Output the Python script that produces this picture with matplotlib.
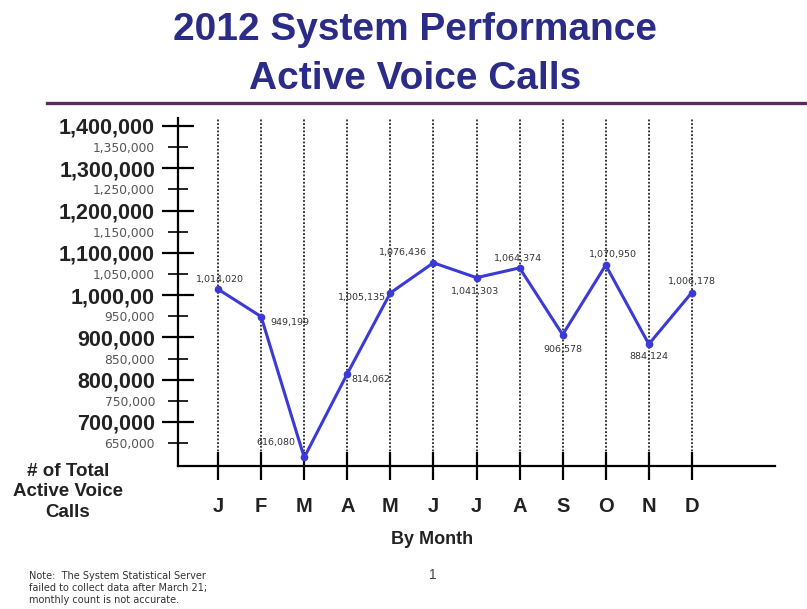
import matplotlib
matplotlib.use("Agg")
import matplotlib.pyplot as plt
from matplotlib.ticker import FixedLocator, FixedFormatter
from matplotlib.lines import Line2D

plt.rcParams['font.family'] = ['Liberation Sans', 'DejaVu Sans']

months = ["J", "F", "M", "A", "M", "J", "J", "A", "S", "O", "N", "D"]
calls = [1014020, 949199, 616080, 814062, 1005135, 1076436,
         1041303, 1064374, 906578, 1070950, 884124, 1006178]
value_labels = ["1,014,020", "949,199", "616,080", "814,062", "1,005,135", "1,076,436",
                "1,041,303", "1,064,374", "906,578", "1,070,950", "884,124", "1,006,178"]

major_ticks = [700000, 800000, 900000, 1000000, 1100000, 1200000, 1300000, 1400000]
major_labels = ["700,000", "800,000", "900,000", "1,000,00", "1,100,000",
                "1,200,000", "1,300,000", "1,400,000"]
minor_ticks = [650000, 750000, 850000, 950000, 1050000, 1150000, 1250000, 1350000]
minor_labels = ["650,000", "750,000", "850,000", "950,000", "1,050,000",
                "1,150,000", "1,250,000", "1,350,000"]

# label placement around each point: (dx, dy) in pixels, horizontal alignment
label_offsets = [(2, 10, "center"), (9, -6, "left"), (-9, 15, "right"), (4, -6, "left"),
                 (-4, -5, "right"), (-6, 10, "right"), (-1, -14, "center"), (-2, 9, "center"),
                 (0, -15, "center"), (7, 11, "center"), (0, -12, "center"), (0, 11, "center")]

W, H = 807, 609
fig = plt.figure(figsize=(W / 100, H / 100), dpi=100)
fig.patch.set_facecolor("white")

ax_left, ax_right, ax_top, ax_bottom = 178, 775, 118, 466
ax = fig.add_axes([ax_left / W, 1 - ax_bottom / H,
                   (ax_right - ax_left) / W, (ax_bottom - ax_top) / H])

x = list(range(len(months)))
ax.set_xlim(-0.93, 12.93)
ax.set_ylim(595900, 1418900)

# dotted month guides
for xi in x:
    ax.axvline(xi, color="black", linestyle=(0, (1.2, 1.2)), linewidth=1.1, zorder=1)

line_color = "#3a3ad6"
ax.plot(x, calls, color=line_color, linewidth=2.2, marker="o", markersize=4.5, zorder=3)

small_font = ["DejaVu Sans"]
for xi, yi, txt, (dx, dy, ha) in zip(x, calls, value_labels, label_offsets):
    ax.annotate(txt, (xi, yi), xytext=(dx, dy), textcoords="offset pixels",
                ha=ha, va="center", fontsize=6.8, color="#333333", zorder=4,
                family=small_font)

for side in ["top", "right"]:
    ax.spines[side].set_visible(False)
for side in ["left", "bottom"]:
    ax.spines[side].set_linewidth(1.6)
    ax.spines[side].set_color("black")

# y axis: bold hundred-thousands, small grey fifty-thousands
ax.yaxis.set_major_locator(FixedLocator(major_ticks))
ax.yaxis.set_major_formatter(FixedFormatter(major_labels))
ax.yaxis.set_minor_locator(FixedLocator(minor_ticks))
ax.yaxis.set_minor_formatter(FixedFormatter(minor_labels))
ax.tick_params(axis="y", which="major", direction="inout", length=23, width=1.6,
               pad=5, labelsize=15.5, colors="black")
ax.tick_params(axis="y", which="minor", direction="inout", length=15, width=1.2,
               pad=9, labelsize=8.8, labelcolor="#555555")
for lbl in ax.get_yticklabels():
    lbl.set_fontweight("bold")
    lbl.set_color("#222222")
for lbl in ax.get_yticklabels(minor=True):
    lbl.set_family(small_font)

ax.set_xticks(x)
ax.set_xticklabels(months)
ax.tick_params(axis="x", direction="inout", length=20, width=1.6, pad=12, labelsize=14.5)
for lbl in ax.get_xticklabels():
    lbl.set_fontweight("bold")
    lbl.set_color("#222222")

ax.set_facecolor("white")

# title block
title_color = "#2b2b88"
fig.text(415 / W, 1 - 40 / H, "2012 System Performance", ha="center", va="baseline",
         fontsize=28, fontweight="bold", color=title_color)
fig.text(415 / W, 1 - 89 / H, "Active Voice Calls", ha="center", va="baseline",
         fontsize=28, fontweight="bold", color=title_color)
fig.add_artist(Line2D([47 / W, 1.0], [1 - 103 / H, 1 - 103 / H],
                      transform=fig.transFigure, color="#5c2a5c", linewidth=2.4))

fig.text(68 / W, 1 - 492 / H, "# of Total\nActive Voice\nCalls", ha="center", va="center",
         fontsize=13.5, fontweight="bold", color="#222222", linespacing=1.3)
fig.text(432 / W, 1 - 540 / H, "By Month", ha="center", va="center",
         fontsize=13, fontweight="bold", color="#222222")
fig.text(433 / W, 1 - 575 / H, "1", ha="center", va="center", fontsize=10, color="#444444")
fig.text(29 / W, 1 - 588 / H,
         "Note:  The System Statistical Server\nfailed to collect data after March 21;\nmonthly count is not accurate.",
         ha="left", va="center", fontsize=7, color="#333333", linespacing=1.3,
         family=small_font)

fig.savefig("out.png", dpi=100, facecolor="white")
